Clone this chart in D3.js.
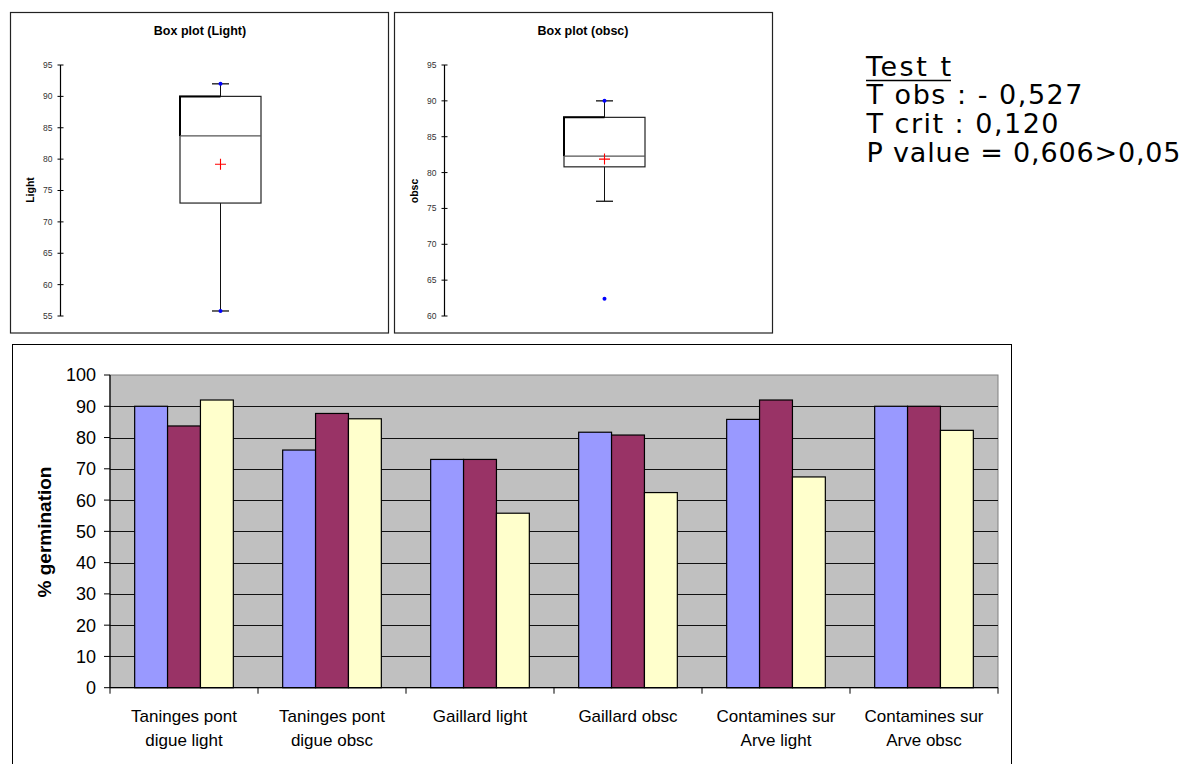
<!DOCTYPE html>
<html><head><meta charset="utf-8">
<script src="https://cdn.jsdelivr.net/npm/d3@7"></script>
<style>html,body{margin:0;padding:0;background:#fff;}svg{display:block;}</style>
</head><body>
<svg id="c" width="1196" height="764"></svg>
<script>
// ---- data ----
const categories = [
  ["Taninges pont","digue light"],
  ["Taninges pont","digue obsc"],
  ["Gaillard light"],
  ["Gaillard obsc"],
  ["Contamines sur","Arve light"],
  ["Contamines sur","Arve obsc"]
];
const series1 = [90, 76, 73, 81.7, 85.8, 90];
const series2 = [83.7, 87.7, 73, 80.8, 92, 90];
const series3 = [92, 86, 55.8, 62.4, 67.4, 82.3];
const seriesColors = ["#9999FF", "#993366", "#FFFFCC"];
const yTicksBar = [0,10,20,30,40,50,60,70,80,90,100];
const lightIdx = [0, 2, 4];
const obscIdx = [1, 3, 5];
const boxTicksLight = [55,60,65,70,75,80,85,90,95];
const boxTicksObsc = [60,65,70,75,80,85,90,95];
const testTitle = "Test t";
const testLines = ["T obs : - 0,527", "T crit : 0,120", "P value = 0,606>0,05"];

const svg = d3.select("#c");
svg.append("rect").attr("width",1196).attr("height",764).attr("fill","#fff");

// ---- box plots ----
function boxplot(opt){
  const g = svg.append("g");
  g.append("rect").attr("x",opt.fx).attr("y",12.5).attr("width",opt.fw).attr("height",320.5)
    .attr("fill","#fff").attr("stroke","#222").attr("stroke-width",1.2);
  g.append("text").attr("x",opt.tx).attr("y",34.5).attr("text-anchor","middle")
    .attr("font-family","Liberation Sans, Arial, sans-serif").attr("font-weight","bold")
    .attr("font-size",12.5).text(opt.title);
  const y = d3.scaleLinear().domain(opt.domain).range([316,65]);
  g.append("line").attr("x1",opt.ax).attr("x2",opt.ax).attr("y1",y(opt.domain[0])).attr("y2",y(opt.domain[1]))
    .attr("stroke","#000").attr("stroke-width",1.2);
  opt.ticks.forEach(t=>{
    g.append("line").attr("x1",opt.ax-3).attr("x2",opt.ax+3).attr("y1",y(t)).attr("y2",y(t))
      .attr("stroke","#000").attr("stroke-width",1);
    g.append("text").attr("x",opt.ax-8).attr("y",y(t)).attr("dy","0.35em").attr("text-anchor","end")
      .attr("font-family","Liberation Sans, Arial, sans-serif").attr("font-size",8.5).attr("fill","#333").text(t);
  });
  g.append("text").attr("transform",`translate(${opt.lx},${opt.ly}) rotate(-90)`)
    .attr("text-anchor","middle").attr("font-family","Liberation Sans, Arial, sans-serif")
    .attr("font-weight","bold").attr("font-size",10.5).text(opt.label);

  const vals = opt.values.slice().sort(d3.ascending);
  const q1 = d3.quantile(vals,0.25), med = d3.quantile(vals,0.5), q3 = d3.quantile(vals,0.75);
  const iqr = q3-q1;
  const lo = d3.min(vals.filter(v=>v>=q1-1.5*iqr)), hi = d3.max(vals.filter(v=>v<=q3+1.5*iqr));
  const mean = d3.mean(vals), mn = d3.min(vals), mx = d3.max(vals);
  const cx = opt.cx, bw = 81, cw = 17;
  g.append("line").attr("x1",cx).attr("x2",cx).attr("y1",y(hi)).attr("y2",y(q3)).attr("stroke","#111");
  g.append("line").attr("x1",cx).attr("x2",cx).attr("y1",y(q1)).attr("y2",y(lo)).attr("stroke","#111");
  [hi,lo].forEach(v=>g.append("line").attr("x1",cx-cw/2).attr("x2",cx+cw/2).attr("y1",y(v)).attr("y2",y(v))
    .attr("stroke","#111").attr("stroke-width",1.3));
  g.append("rect").attr("x",cx-bw/2).attr("y",y(q3)).attr("width",bw).attr("height",y(q1)-y(q3))
    .attr("fill","none").attr("stroke","#222").attr("stroke-width",1.2);
  g.append("path").attr("d",`M${cx-bw/2},${y(med)}V${y(q3)}H${cx}`).attr("fill","none")
    .attr("stroke","#000").attr("stroke-width",2);
  g.append("line").attr("x1",cx-bw/2).attr("x2",cx+bw/2).attr("y1",y(med)).attr("y2",y(med))
    .attr("stroke","#555").attr("stroke-width",1.2);
  [mn,mx].forEach(v=>g.append("circle").attr("cx",cx).attr("cy",y(v)).attr("r",2).attr("fill","#0000FF"));
  g.append("path").attr("d",`M${cx-5.5},${y(mean)}H${cx+5.5}M${cx},${y(mean)-5.5}V${y(mean)+5.5}`)
    .attr("stroke","#FF0000").attr("stroke-width",1.1);
}
const lightVals = lightIdx.flatMap(i=>[series1[i],series2[i],series3[i]]);
const obscVals = obscIdx.flatMap(i=>[series1[i],series2[i],series3[i]]);
boxplot({fx:10.5,fw:378,tx:200,title:"Box plot (Light)",domain:[55,95],ticks:boxTicksLight,ax:60.5,
  lx:34,ly:190,label:"Light",values:lightVals,cx:220.5});
boxplot({fx:394.5,fw:378,tx:583,title:"Box plot (obsc)",domain:[60,95],ticks:boxTicksObsc,ax:444.5,
  lx:418,ly:191,label:"obsc",values:obscVals,cx:604.5});

// ---- test text ----
const tf = "DejaVu Sans, Verdana, sans-serif";
const widths = [216, 192, 314];
svg.append("text").attr("x",866).attr("y",76).attr("font-family",tf).attr("font-size",27)
  .attr("textLength",85).attr("lengthAdjust","spacing").text(testTitle);
svg.append("line").attr("x1",866).attr("x2",951).attr("y1",80.5).attr("y2",80.5).attr("stroke","#000").attr("stroke-width",1.6);
testLines.forEach((s,i)=>svg.append("text").attr("x",866.5).attr("y",104+i*29).attr("font-family",tf)
  .attr("font-size",27).attr("textLength",widths[i]).attr("lengthAdjust","spacing").text(s));

// ---- bar chart ----
svg.append("rect").attr("x",12.5).attr("y",344.5).attr("width",999).attr("height",440)
  .attr("fill","#fff").attr("stroke","#000").attr("stroke-width",1);
const keys = categories.map(c=>c.join(" "));
const x0 = d3.scaleBand().domain(keys).range([110,998]);
const y = d3.scaleLinear().domain([0,100]).range([687.7,375]);
const pa = svg.append("g");
pa.append("rect").attr("x",110).attr("y",y(100)).attr("width",888).attr("height",y(0)-y(100))
  .attr("fill","#C0C0C0").attr("stroke","#808080").attr("stroke-width",1);
yTicksBar.filter(t=>t>0 && t<100).forEach(t=>pa.append("line").attr("x1",110).attr("x2",998)
  .attr("y1",Math.round(y(t))+0.5).attr("y2",Math.round(y(t))+0.5).attr("stroke","#111").attr("stroke-width",1));
const bw = x0.bandwidth(), barW = bw/4.5;
const allSeries = [series1,series2,series3];
allSeries.forEach((s,si)=>{
  pa.selectAll(null).data(s).enter().append("rect")
    .attr("x",(d,i)=>x0(keys[i]) + barW*0.75 + si*barW)
    .attr("y",d=>y(d)).attr("width",barW).attr("height",d=>y(0)-y(d))
    .attr("fill",seriesColors[si]).attr("stroke","#000").attr("stroke-width",1.2);
});
const ax = svg.append("g");
ax.append("line").attr("x1",110).attr("x2",998).attr("y1",y(0)).attr("y2",y(0)).attr("stroke","#000").attr("stroke-width",1.2);
ax.append("line").attr("x1",110).attr("x2",110).attr("y1",y(0)).attr("y2",y(100)).attr("stroke","#000").attr("stroke-width",1.2);
yTicksBar.forEach(t=>{
  ax.append("line").attr("x1",104).attr("x2",110).attr("y1",y(t)).attr("y2",y(t)).attr("stroke","#000");
  ax.append("text").attr("x",96).attr("y",y(t)).attr("dy","0.36em").attr("text-anchor","end")
    .attr("font-family","Liberation Sans, Arial, sans-serif").attr("font-size",18).text(t);
});
const bounds = keys.map(k=>x0(k)).concat([998]);
bounds.forEach(b=>ax.append("line").attr("x1",b).attr("x2",b).attr("y1",y(0)).attr("y2",y(0)+6).attr("stroke","#000"));
categories.forEach((c,i)=>{
  const t = ax.append("text").attr("text-anchor","middle").attr("font-family","Liberation Sans, Arial, sans-serif")
    .attr("font-size",17);
  c.forEach((line,li)=>t.append("tspan").attr("x",x0(keys[i])+bw/2).attr("y",722+li*24).text(line));
});
ax.append("text").attr("transform","translate(51,532) rotate(-90)").attr("text-anchor","middle")
  .attr("font-family","Liberation Sans, Arial, sans-serif").attr("font-weight","bold").attr("font-size",19)
  .text("% germination");
</script>
</body></html>
